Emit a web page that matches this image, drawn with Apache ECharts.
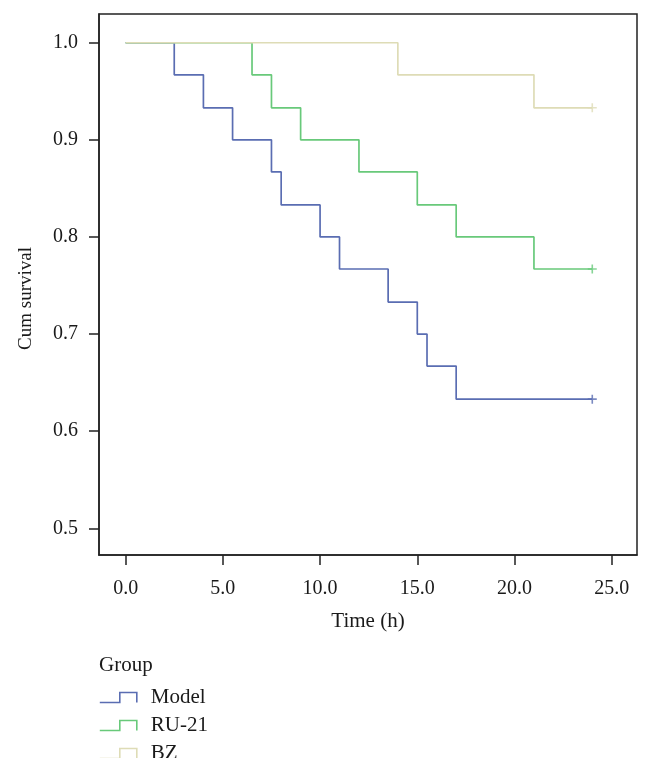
<!DOCTYPE html>
<html>
<head>
<meta charset="utf-8">
<script src="https://cdn.jsdelivr.net/npm/echarts@6/dist/echarts.min.js"></script>
<style>
  html, body { margin: 0; padding: 0; background: #ffffff; width: 652px; height: 772px; overflow: hidden; }
  #chart { width: 652px; height: 758px; }
</style>
</head>
<body>
<div id="chart"></div>
<script>
// Kaplan-Meier steps: [time (h), cumulative survival]
const groupNames = ['Model', 'RU-21', 'BZ'];
const modelSteps = [[0, 1.0], [2.5, 0.967], [4.0, 0.933], [5.5, 0.9], [7.5, 0.867], [8.0, 0.833], [10.0, 0.8], [11.0, 0.767], [13.5, 0.733], [15.0, 0.7], [15.5, 0.667], [17.0, 0.633], [24.0, 0.633]];
const ru21Steps = [[0, 1.0], [6.5, 0.967], [7.5, 0.933], [9.0, 0.9], [12.0, 0.867], [15.0, 0.833], [17.0, 0.8], [21.0, 0.767], [24.0, 0.767]];
const bzSteps = [[0, 1.0], [14.0, 0.967], [21.0, 0.933], [24.0, 0.933]];
const modelCensored = [[24.0, 0.633]];
const ru21Censored = [[24.0, 0.767]];
const bzCensored = [[24.0, 0.933]];
const xTickValues = [0, 5, 10, 15, 20, 25];
const yTickValues = [0.5, 0.6, 0.7, 0.8, 0.9, 1.0];

const colors = ['#5a6db2', '#68c97a', '#dedcb6'];
const font = '"Liberation Serif", "DejaVu Serif", serif';
const plusPath = 'path://M5,0L5,10M0,5L10,5';
const legendIcon = 'path://M0,10L20,10L20,0L37,0L37,10';

const stepSets = [modelSteps, ru21Steps, bzSteps];
const censorSets = [modelCensored, ru21Censored, bzCensored];

const series = [];
groupNames.forEach((name, i) => {
  series.push({
    name: name,
    type: 'line',
    step: 'end',
    data: stepSets[i],
    symbol: 'none',
    lineStyle: { color: colors[i], width: 1.7 },
    itemStyle: { color: colors[i] },
    z: 2 + i
  });
});
groupNames.forEach((name, i) => {
  series.push({
    name: name + ' censored',
    type: 'scatter',
    data: censorSets[i],
    symbol: plusPath,
    symbolSize: 9,
    itemStyle: { color: 'rgba(0,0,0,0)', borderColor: colors[i], borderWidth: 1.6 },
    z: 5
  });
});

const chart = echarts.init(document.getElementById('chart'), null, { renderer: 'canvas' });
chart.setOption({
  backgroundColor: '#ffffff',
  animation: false,
  textStyle: { fontFamily: font },
  title: {
    text: 'Group',
    left: 99,
    top: 655,
    padding: 0,
    textStyle: { fontFamily: font, fontSize: 21, fontWeight: 'normal', color: '#1a1a1a' }
  },
  legend: {
    orient: 'vertical',
    left: 99,
    top: 687,
    height: 140,
    padding: 0,
    itemWidth: 37,
    itemHeight: 10,
    itemGap: 7,
    icon: legendIcon,
    textStyle: { fontFamily: font, fontSize: 21, color: '#1a1a1a', padding: [0, 0, 0, 9] },
    data: groupNames.map((n, i) => ({
      name: n,
      icon: legendIcon,
      itemStyle: { color: 'rgba(0,0,0,0)', borderColor: colors[i], borderWidth: 1.6 }
    })),
    selectedMode: false
  },
  grid: {
    left: 99, right: 15, top: 14, bottom: 203,
    show: true, borderColor: '#222', borderWidth: 1.5, backgroundColor: 'transparent'
  },
  xAxis: {
    type: 'value',
    min: -1.37,
    max: 26.3,
    name: 'Time (h)',
    nameLocation: 'middle',
    nameGap: 56,
    nameTextStyle: { fontFamily: font, fontSize: 21, color: '#1a1a1a' },
    axisLine: { show: true, onZero: false, lineStyle: { color: '#222', width: 1.5 } },
    axisTick: { show: true, length: 10, lineStyle: { color: '#222', width: 1.5 }, customValues: xTickValues },
    axisLabel: { margin: 24, fontFamily: font, fontSize: 20, color: '#1a1a1a', customValues: xTickValues, formatter: v => v.toFixed(1) },
    splitLine: { show: false }
  },
  yAxis: {
    type: 'value',
    min: 0.4725,
    max: 1.0296,
    name: 'Cum survival',
    nameLocation: 'middle',
    nameGap: 63,
    nameTextStyle: { fontFamily: font, fontSize: 19, color: '#1a1a1a', padding: [0, 28, 0, 0] },
    axisLine: { show: true, onZero: false, lineStyle: { color: '#222', width: 1.5 } },
    axisTick: { show: true, length: 10, lineStyle: { color: '#222', width: 1.5 }, customValues: yTickValues },
    axisLabel: { margin: 21, fontFamily: font, fontSize: 20, color: '#1a1a1a', customValues: yTickValues, formatter: v => v.toFixed(1) },
    splitLine: { show: false }
  },
  series: series
});
</script>
</body>
</html>
